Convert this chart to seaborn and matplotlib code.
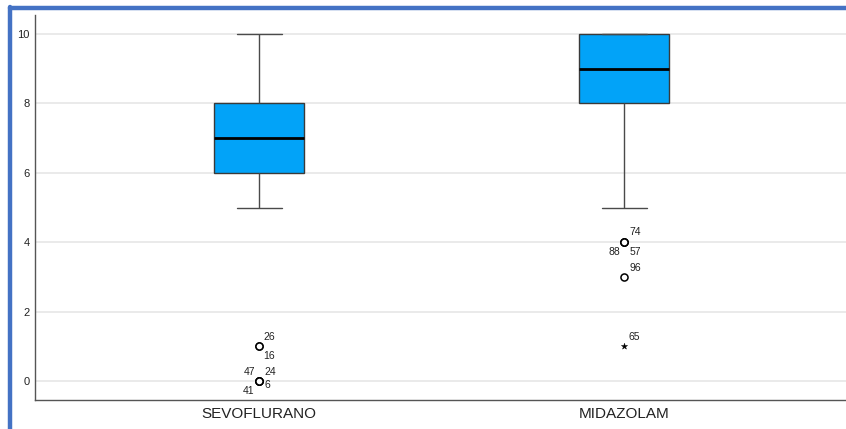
import numpy as np
import pandas as pd
import matplotlib
matplotlib.use("Agg")
import matplotlib.pyplot as plt
import seaborn as sns
from matplotlib.lines import Line2D

# Sedation scores per group: bulk of the distribution as (score, count)
groups = ["SEVOFLURANO", "MIDAZOLAM"]
sevo_levels = [5, 6, 7, 8, 9, 10]
sevo_counts = [4, 10, 12, 10, 5, 3]
midaz_levels = [5, 6, 7, 8, 9, 10]
midaz_counts = [2, 2, 2, 12, 12, 15]

# Individual low cases, identified by case number
sevo_case_ids = [47, 24, 6, 41, 26, 16]
sevo_case_scores = [0, 0, 0, 0, 1, 1]
midaz_case_ids = [74, 88, 57, 96, 65]
midaz_case_scores = [4, 4, 4, 3, 1]

y_ticks = [0, 2, 4, 6, 8, 10]

rows = []
for g, lv, ct, ids, sc in [
    (groups[0], sevo_levels, sevo_counts, sevo_case_ids, sevo_case_scores),
    (groups[1], midaz_levels, midaz_counts, midaz_case_ids, midaz_case_scores),
]:
    for v, c in zip(lv, ct):
        rows += [{"group": g, "score": v, "case": None}] * c
    for i, s in zip(ids, sc):
        rows.append({"group": g, "score": s, "case": i})
df = pd.DataFrame(rows)

# label placement around each flagged case (pixels, alignment)
label_style = {
    26: (4, 9, "left"), 16: (4, -10, "left"),
    47: (-4, 9, "right"), 24: (5, 9, "left"),
    6: (5, -4, "left"), 41: (-5, -10, "right"),
    74: (5, 10, "left"), 88: (-4, -10, "right"), 57: (5, -10, "left"),
    96: (5, 9, "left"), 65: (4, 9, "left"),
}

sns.set_style("white")
plt.rcParams["font.family"] = ["Liberation Sans", "DejaVu Sans"]

fig = plt.figure(figsize=(8.46, 4.29), dpi=100)
ax = fig.add_axes([35 / 846, 1 - 400 / 429, 1 - 35 / 846, (400 - 15) / 429])

box_color = "#02A3F8"
sns.boxplot(
    data=df, x="group", y="score", order=groups, color=box_color,
    saturation=1, width=0.247, whis=1.5, showfliers=False,
    linecolor="#3a3a3a", linewidth=1.0,
    medianprops=dict(color="black", linewidth=2.0),
    whiskerprops=dict(color="#4a4a4a", linewidth=1.0),
    capprops=dict(color="#4a4a4a", linewidth=1.0),
    ax=ax, zorder=2,
)

# Outliers (beyond 1.5 IQR) as open circles, extremes (beyond 3 IQR) as stars
for xi, g in enumerate(groups):
    sub = df[df["group"] == g]
    q1, q3 = np.percentile(sub["score"], [25, 75])
    iqr = q3 - q1
    out = sub[(sub["score"] < q1 - 1.5 * iqr) | (sub["score"] > q3 + 1.5 * iqr)]
    extreme = (out["score"] < q1 - 3 * iqr) | (out["score"] > q3 + 3 * iqr)
    mild = out[~extreme]
    ext = out[extreme]
    ax.scatter(np.full(len(mild), xi), mild["score"], s=26, facecolors="white",
               edgecolors="black", linewidths=1.1, zorder=3)
    ax.scatter(np.full(len(ext), xi), ext["score"], s=22, marker="*",
               color="black", linewidths=0.3, zorder=3)
    for _, r in out.iterrows():
        dx, dy, ha = label_style[int(r["case"])]
        ax.annotate(str(int(r["case"])), (xi, r["score"]), xytext=(dx, dy),
                    textcoords="offset pixels", ha=ha, va="center",
                    fontsize=7.5, color="#222222", zorder=4)

ax.set_xlim(-0.614, 1.608)
ax.set_ylim(-0.55, 10.55)
ax.set_yticks(y_ticks)
ax.set_yticklabels([str(t) for t in y_ticks])
ax.yaxis.grid(True, color="#e8e8e8", linewidth=1.3)
ax.set_axisbelow(True)
ax.set_xlabel("")
ax.set_ylabel("")
ax.tick_params(axis="both", length=0)
ax.tick_params(axis="y", labelsize=8, pad=4, labelcolor="#222222")
ax.tick_params(axis="x", labelsize=11, pad=5, labelcolor="#222222")
for s in ["top", "right"]:
    ax.spines[s].set_visible(False)
for s in ["left", "bottom"]:
    ax.spines[s].set_color("#555555")
    ax.spines[s].set_linewidth(1.0)

# blue frame along the top and left edges
frame = "#4472C4"
fig.add_artist(Line2D([10 / 846, 1], [1 - 8 / 429, 1 - 8 / 429],
                      transform=fig.transFigure, color=frame, linewidth=3.2))
fig.add_artist(Line2D([10 / 846, 10 / 846], [0, 1 - 6.5 / 429],
                      transform=fig.transFigure, color=frame, linewidth=3.2))

fig.savefig("out.png", dpi=100)
